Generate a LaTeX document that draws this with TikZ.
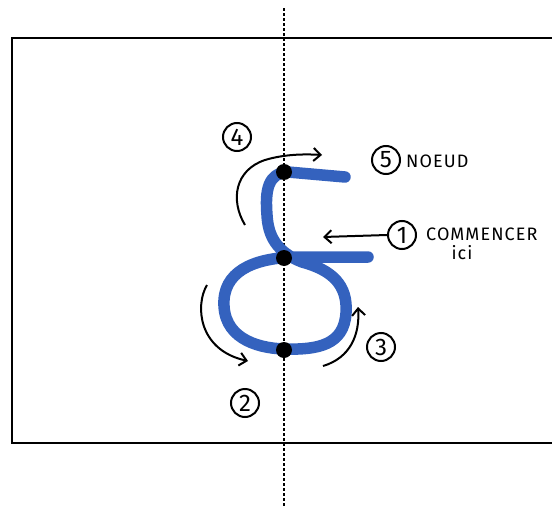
\documentclass[tikz,border=0pt]{standalone}
\usepackage{fontspec}
\setmainfont{Fira Sans}
\usetikzlibrary{arrows.meta}
\definecolor{strand}{RGB}{52,98,190}
\begin{document}
\begin{tikzpicture}[x=1pt,y=-1pt,
  circnum/.style={draw,circle,line width=2pt,inner sep=0pt,minimum size=28pt,font=\fontsize{24}{24}\selectfont},
  lbl/.style={font=\fontsize{18}{20}\selectfont\addfontfeatures{LetterSpace=6},anchor=west,inner sep=0pt},
  knot/.style={draw=strand,line width=11.5pt,line cap=round,line join=round},
  marker/.style={circle,fill=black,inner sep=0pt,minimum size=16pt},
  hand/.style={line width=2pt,-{Straight Barb[length=7pt,width=13pt]}}]
\useasboundingbox (0,0) rectangle (552,506);
% frame
\draw[line width=2pt] (553,38) -- (12,38) -- (12,443) -- (553,443);
% axis
\draw[line width=1.8pt,dashed,dash pattern=on 3pt off 2pt] (284,8) -- (284,506);
% blue strand
\draw[knot] (368,257) -- (300,257)
  .. controls (260,257) and (226,268) .. (224,300)
  .. controls (222,337) and (255,348) .. (284,349)
  .. controls (318,350) and (344,345) .. (346,313)
  .. controls (348,285) and (332,270) .. (302,262)
  .. controls (276,252) and (268,235) .. (267,215)
  .. controls (265,190) and (268,173) .. (288,172)
  -- (345,177);
% markers
\node[marker] (d1) at (284,172) {};
\node[marker] (d2) at (284,258) {};
\node[marker] (d3) at (284,350) {};
% circled numbers
\node[circnum] (n4) at (237,137) {4};
\node[circnum] (n5) at (386,160) {5};
\node[circnum] (n1) at (402,235) {1};
\node[circnum] (n3) at (381,347) {3};
\node[circnum] (n2) at (245,403) {2};
% labels
\node[lbl] (t5) at (406,161) {NOEUD};
\node[lbl] (t1) at (426,234) {COMMENCER};
\node[lbl,anchor=north] (t1b) at (462,245) {ici};
% hand arrows
\coordinate (a4s) at (245,225);
\coordinate (a4e) at (322,155);
\draw[hand] (a4s) .. controls (230,200) and (235,170) .. (265,160) .. controls (285,154) and (305,154) .. (a4e);
\coordinate (a1e) at (323,237);
\draw[hand] (n1.west) -- (a1e);
\coordinate (a2s) at (207,285);
\coordinate (a2e) at (248,361);
\draw[hand] (a2s) .. controls (195,305) and (198,350) .. (a2e);
\coordinate (a3s) at (323,366);
\coordinate (a3e) at (358,307);
\draw[hand] (a3s) .. controls (350,358) and (360,335) .. (a3e);
\end{tikzpicture}
\end{document}
